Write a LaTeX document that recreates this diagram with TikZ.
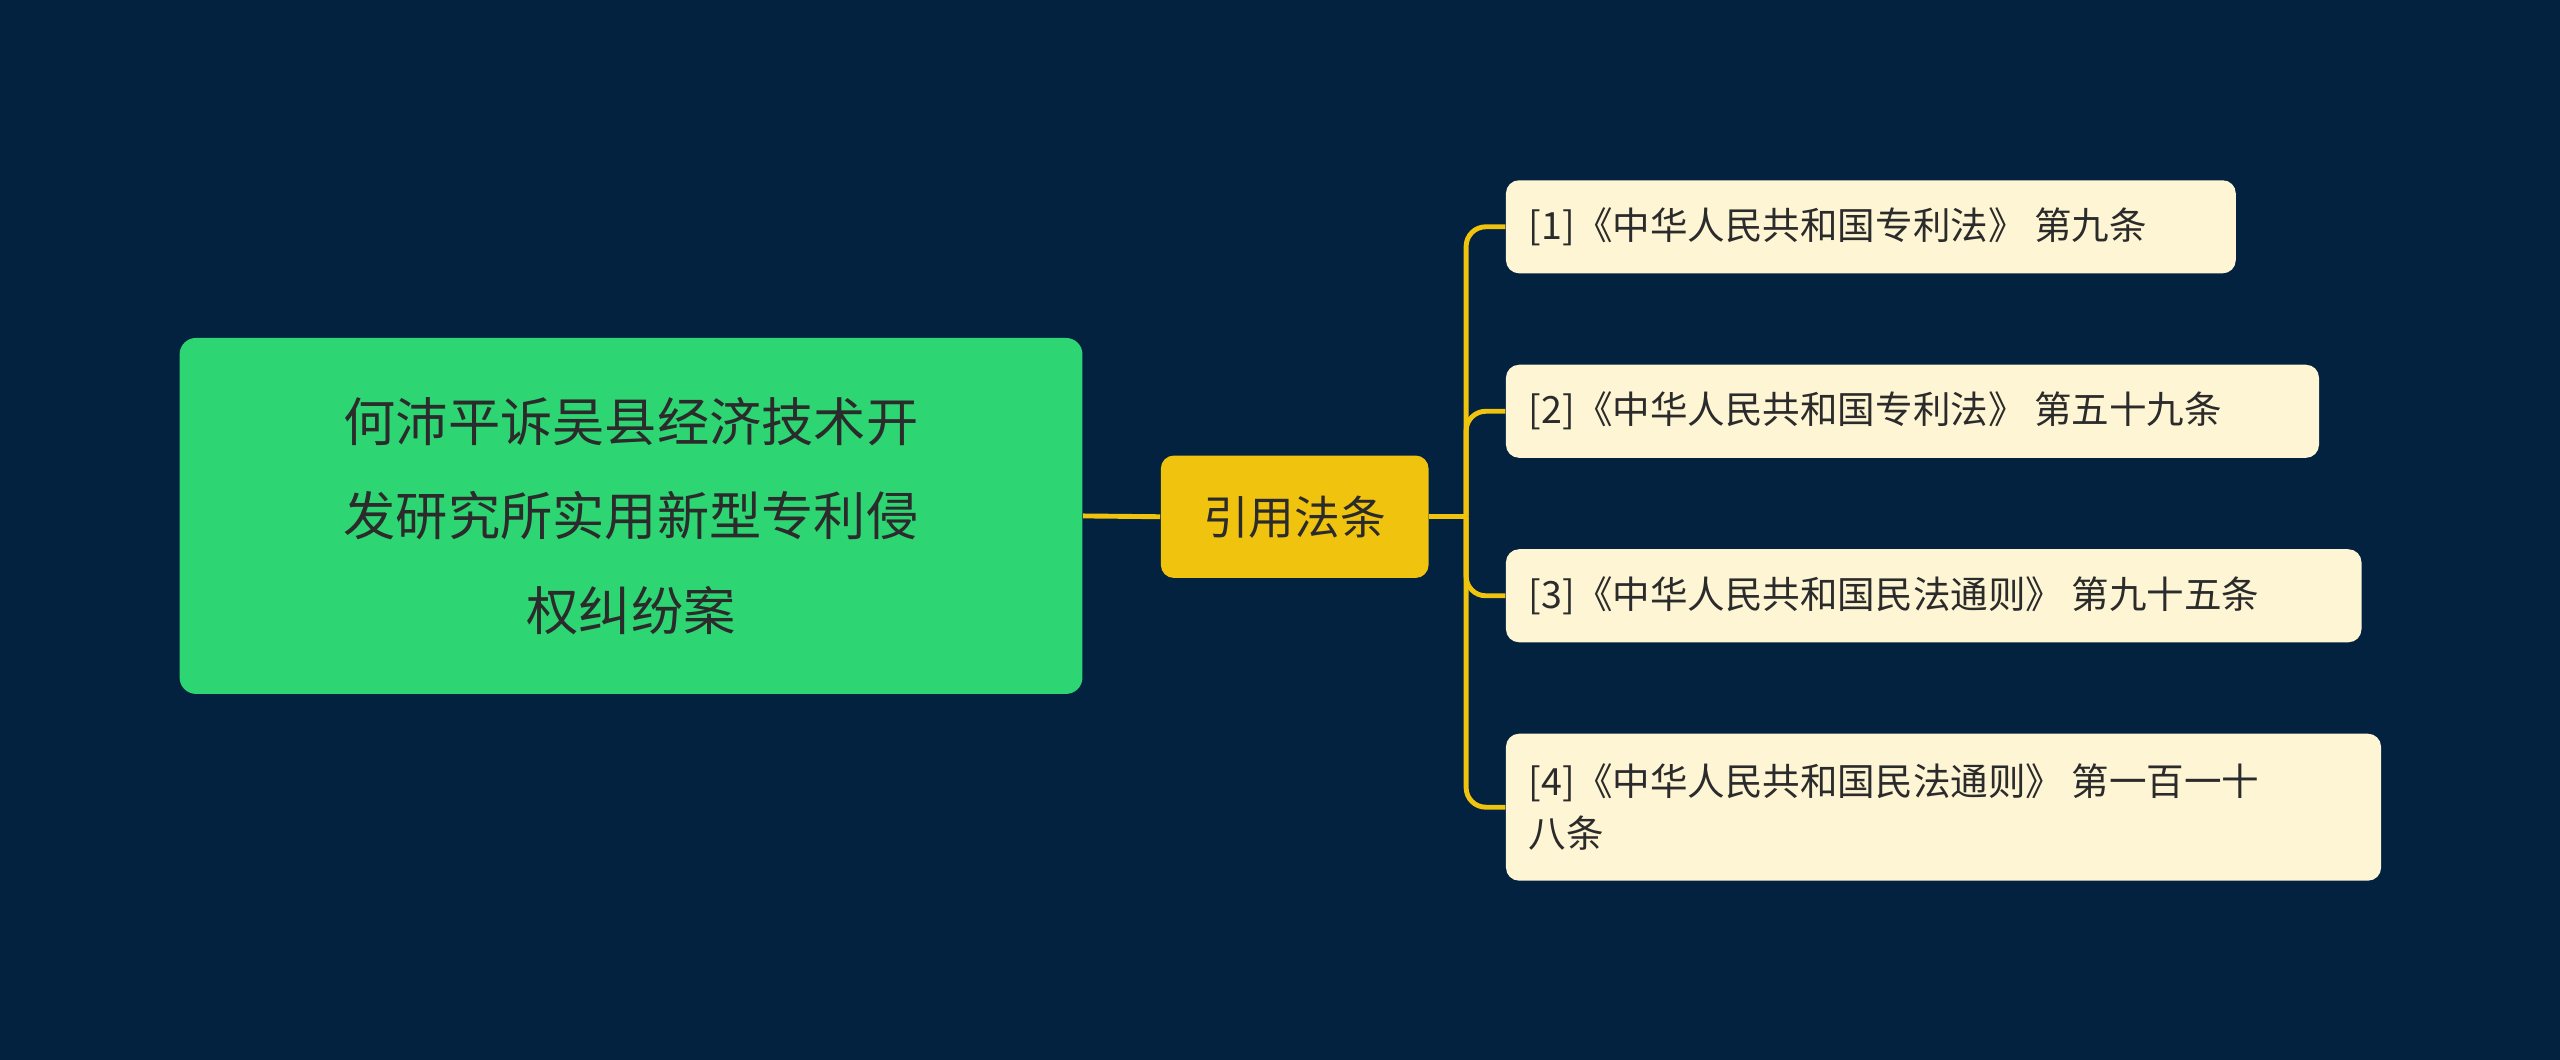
\documentclass[tikz,border=0pt]{standalone}
\usepackage{fontspec}
\setmainfont{Noto Sans CJK SC}
\definecolor{bg}{HTML}{022240}
\definecolor{rootc}{HTML}{2ED573}
\definecolor{midc}{HTML}{F0C30F}
\definecolor{leafc}{HTML}{FDF5D3}
\definecolor{txt}{HTML}{2B2B2B}
\begin{document}
\begin{tikzpicture}[x=0.5pt,y=-0.5pt,
 leaf/.style={fill=leafc,rounded corners=4pt,text=txt,font=\fontsize{11.5pt}{15pt}\selectfont,anchor=north west,inner sep=0pt},
 conn/.style={draw=midc,line width=1.5pt,rounded corners=6pt}]
\fill[bg] (0,0) rectangle (1568,649);
\useasboundingbox (0,0) rectangle (1568,649);
\node[fill=rootc,rounded corners=5pt,minimum width=276.5pt,minimum height=109pt,inner sep=0pt,text=txt,align=center,font=\fontsize{16pt}{29pt}\selectfont] (root) at (386.5,316) {何沛平诉吴县经济技术开\\发研究所实用新型专利侵\\权纠纷案};
\node[fill=midc,rounded corners=4pt,minimum width=82pt,minimum height=37.5pt,inner sep=0pt,text=txt,font=\fontsize{14pt}{16pt}\selectfont] (mid) at (793,316.5) {引用法条};
\node[leaf,minimum width=223.5pt,minimum height=28.5pt] (l1) at (922,110) {};
\node[anchor=west,text=txt,font=\fontsize{11.5pt}{15pt}\selectfont,inner sep=0pt] at ([xshift=7pt]l1.west) {[1]《中华人民共和国专利法》 第九条};
\node[leaf,minimum width=249pt,minimum height=28.5pt] (l2) at (922,223) {};
\node[anchor=west,text=txt,font=\fontsize{11.5pt}{15pt}\selectfont,inner sep=0pt] at ([xshift=7pt]l2.west) {[2]《中华人民共和国专利法》 第五十九条};
\node[leaf,minimum width=262pt,minimum height=28.5pt] (l3) at (922,336) {};
\node[anchor=west,text=txt,font=\fontsize{11.5pt}{15pt}\selectfont,inner sep=0pt] at ([xshift=7pt]l3.west) {[3]《中华人民共和国民法通则》 第九十五条};
\node[leaf,minimum width=268pt,minimum height=45pt] (l4) at (922,449) {};
\node[anchor=west,text=txt,align=left,font=\fontsize{11.5pt}{16pt}\selectfont,inner sep=0pt] at ([xshift=7pt]l4.west) {[4]《中华人民共和国民法通则》 第一百一十\\八条};
\draw[conn] (root.east) -- (mid.west);
\coordinate (j) at (898,316.5);
\draw[conn] (mid.east) -- (j);
\foreach \l in {l1,l2,l3,l4}{\draw[conn] (j) |- (\l.west);}
\end{tikzpicture}
\end{document}
